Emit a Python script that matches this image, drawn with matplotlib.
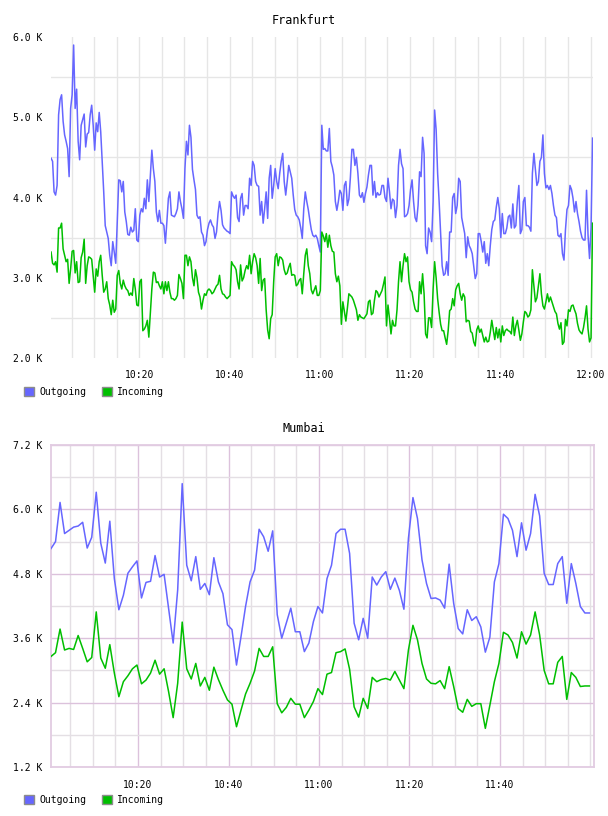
import matplotlib
matplotlib.use("Agg")
import matplotlib.pyplot as plt
import matplotlib.dates as mdates
from matplotlib.patches import Patch
from matplotlib.ticker import FixedLocator, FuncFormatter
import pandas as pd

# Frankfurt: one sample every 20 s, values in K
frankfurt_start = "2024-01-01 10:00:27"
frankfurt_out = [
    4.49, 4.45, 4.07, 4.03, 4.15, 5.03, 5.22, 5.28, 4.95, 4.78,
    4.70, 4.61, 4.26, 5.11, 5.28, 5.90, 5.11, 5.35, 4.70, 4.47,
    4.90, 4.97, 5.04, 4.63, 4.79, 4.81, 5.03, 5.15, 4.90, 4.59,
    4.93, 4.82, 5.06, 4.82, 4.45, 4.07, 3.65, 3.57, 3.49, 3.28,
    3.15, 3.45, 3.32, 3.18, 3.70, 4.22, 4.21, 4.07, 4.20, 3.82,
    3.70, 3.54, 3.53, 3.63, 3.57, 3.59, 3.86, 3.47, 3.45, 3.78,
    3.86, 3.82, 3.99, 3.86, 4.22, 3.95, 4.28, 4.59, 4.36, 4.20,
    3.82, 3.70, 3.84, 3.68, 3.68, 3.65, 3.43, 3.70, 3.99, 4.07,
    3.78, 3.77, 3.76, 3.80, 3.86, 4.07, 3.95, 3.86, 3.74, 4.36,
    4.70, 4.53,
    4.90, 4.75, 4.35, 4.22, 4.10, 3.78, 3.74, 3.76, 3.57, 3.53,
    3.40, 3.45, 3.60, 3.68, 3.72, 3.66, 3.63, 3.49, 3.57, 3.80,
    3.95, 3.84, 3.66, 3.62, 3.60, 3.58, 3.57, 3.55, 4.07, 4.02,
    3.99, 4.03, 3.75, 3.70, 3.99, 4.05, 3.78, 3.90, 3.90, 3.86,
    4.24, 4.15, 4.45, 4.40, 4.20, 4.15, 4.14, 3.78, 3.95, 3.68,
    3.86, 4.07, 3.74, 4.24, 4.40, 3.99, 4.15, 4.36, 4.20, 4.11,
    4.30, 4.45, 4.55, 4.20, 4.03, 4.20, 4.40, 4.32, 4.24, 4.03,
    3.85, 3.78, 3.76, 3.72, 3.62, 3.49, 3.86, 4.07, 3.95, 3.85,
    3.72, 3.60, 3.53, 3.51, 3.53, 3.49, 3.40, 3.32, 4.90, 4.60,
    4.61, 4.58,
    4.58, 4.86, 4.45, 4.38, 4.28, 3.95, 3.84, 3.95, 4.09, 4.05,
    3.84, 4.15, 4.20, 3.90, 3.98, 4.25, 4.60, 4.60, 4.40, 4.50,
    4.30, 4.03, 4.00, 4.06, 3.94, 4.05, 4.13, 4.28, 4.40, 4.40,
    4.03, 4.20, 4.00, 4.06, 4.03, 4.04, 4.15, 4.15, 4.00, 3.95,
    4.24, 4.07, 3.86, 3.98, 3.96, 3.75, 3.90, 4.40, 4.60, 4.42,
    4.36, 3.76, 3.77, 3.80, 3.90, 4.10, 4.22, 3.95, 3.75, 3.70,
    3.90, 4.32, 4.26, 4.75, 4.55, 3.40, 3.30, 3.62, 3.57, 3.45,
    3.95, 5.09, 4.85, 4.30, 3.95, 3.55, 3.15, 3.03, 3.05, 3.20,
    3.03, 3.57, 3.57, 4.00, 4.05, 3.80, 3.90, 4.24, 4.20, 3.75,
    3.65, 3.55,
    3.25, 3.51, 3.40, 3.36, 3.30, 3.15, 2.99, 3.05, 3.55, 3.55,
    3.45, 3.32, 3.45, 3.18, 3.30, 3.15, 3.40, 3.60, 3.70, 3.72,
    3.88, 4.00, 3.86, 3.50, 3.80, 3.55, 3.55, 3.62, 3.76, 3.78,
    3.62, 3.92, 3.62, 3.65, 3.95, 4.15, 3.55, 3.60, 3.95, 4.00,
    3.65, 3.65, 3.63, 3.58, 4.30, 4.55, 4.35, 4.15, 4.20, 4.45,
    4.50, 4.78, 4.30, 4.12, 4.15, 4.10, 4.15, 4.05, 3.90, 3.78,
    3.75, 3.53, 3.51, 3.55, 3.30, 3.22, 3.60, 3.85, 3.90, 4.15,
    4.10, 3.99, 3.82, 3.95, 3.80, 3.70, 3.58, 3.50, 3.47, 3.47,
    4.09, 3.53, 3.24, 3.62, 4.74,
]
frankfurt_in = [
    3.32, 3.18, 3.16, 3.20, 3.07, 3.62, 3.62, 3.68, 3.36, 3.28,
    3.20, 3.23, 2.93, 3.11, 3.33, 3.34, 3.06, 3.20, 2.94, 2.95,
    3.25, 3.32, 3.48, 2.93, 3.15, 3.26, 3.25, 3.23, 3.03, 2.82,
    3.11, 3.02, 3.20, 3.28, 3.03, 2.82, 2.86, 2.95, 2.74, 2.66,
    2.54, 2.72, 2.57, 2.61, 3.03, 3.09, 2.93, 2.86, 2.97, 2.90,
    2.86, 2.84, 2.78, 2.81, 2.78, 2.99, 2.86, 2.66, 2.65, 2.95,
    2.98, 2.34, 2.36, 2.40, 2.47, 2.26, 2.57, 2.86, 3.07, 3.06,
    2.94, 2.95, 2.90, 2.86, 2.95, 2.80, 2.95, 2.84, 2.95, 2.82,
    2.74, 2.74, 2.72, 2.74, 2.78, 3.04, 2.99, 2.93, 2.74, 3.28,
    3.28, 3.15,
    3.26, 3.20, 3.00, 2.90, 3.10, 3.00, 2.82, 2.76, 2.61, 2.72,
    2.80, 2.78, 2.84, 2.86, 2.84, 2.80, 2.82, 2.86, 2.90, 2.92,
    3.03, 2.86, 2.80, 2.79, 2.76, 2.74, 2.76, 2.78, 3.20, 3.16,
    3.14, 3.10, 2.95, 2.86, 3.16, 2.96, 3.00, 3.09, 3.15, 3.11,
    3.28, 3.05, 3.20, 3.30, 3.25, 3.15, 2.93, 3.24, 2.84, 2.97,
    2.99, 2.60, 2.35, 2.24, 2.49, 2.54, 2.95, 3.26, 3.30, 3.15,
    3.26, 3.25, 3.22, 3.10, 3.04, 3.06, 3.13, 3.18, 3.03, 3.04,
    3.03, 2.90, 2.92, 2.97, 2.99, 2.80, 3.05, 3.28, 3.36, 3.15,
    3.05, 2.85, 2.80, 2.85, 2.90, 2.78, 2.78, 2.84, 3.57, 3.52,
    3.45, 3.55,
    3.38, 3.53, 3.40, 3.33, 3.32, 3.05, 2.95, 3.02, 2.90, 2.42,
    2.70, 2.58, 2.46, 2.62, 2.80, 2.78, 2.76, 2.72, 2.66, 2.60,
    2.47, 2.54, 2.51, 2.50, 2.49, 2.52, 2.55, 2.70, 2.72, 2.54,
    2.56, 2.72, 2.84, 2.82, 2.76, 2.80, 2.84, 2.92, 3.01, 2.40,
    2.66, 2.49, 2.30, 2.47, 2.40, 2.40, 2.60, 2.95, 3.20, 2.95,
    3.15, 3.30, 3.20, 3.26, 2.95, 2.85, 2.82, 2.70, 2.61, 2.58,
    2.58, 2.95, 2.80, 3.05, 2.80, 2.30, 2.25, 2.50, 2.50, 2.38,
    2.86, 3.20, 3.00, 2.74, 2.57, 2.42, 2.34, 2.34, 2.25, 2.17,
    2.34, 2.59, 2.61, 2.74, 2.65, 2.85, 2.90, 2.93, 2.80, 2.72,
    2.80, 2.76,
    2.45, 2.47, 2.46, 2.33, 2.31, 2.20, 2.15, 2.35, 2.40, 2.32,
    2.36, 2.28, 2.20, 2.26, 2.20, 2.21, 2.32, 2.47, 2.35, 2.23,
    2.38, 2.25, 2.36, 2.20, 2.40, 2.28, 2.34, 2.36, 2.34, 2.33,
    2.30, 2.51, 2.28, 2.40, 2.47, 2.35, 2.22, 2.30, 2.45, 2.58,
    2.56, 2.51, 2.53, 2.60, 3.10, 2.90, 2.70, 2.75, 2.90, 3.05,
    2.80, 2.65, 2.61, 2.70, 2.80, 2.70, 2.76, 2.70, 2.64, 2.58,
    2.55, 2.43, 2.36, 2.44, 2.17, 2.20, 2.48, 2.40, 2.60, 2.58,
    2.65, 2.66, 2.60, 2.55, 2.43, 2.35, 2.32, 2.30, 2.38, 2.50,
    2.65, 2.36, 2.20, 2.25, 3.68,
]

# Mumbai: one sample per minute, values in K
mumbai_start = "2024-01-01 10:00:46"
mumbai_out = [
    5.27, 5.40, 6.13, 5.55, 5.61, 5.67, 5.69, 5.76, 5.28, 5.48,
    6.32, 5.37, 5.00, 5.78, 4.71, 4.13, 4.40, 4.81, 4.93, 5.04,
    4.35, 4.64, 4.66, 5.14, 4.74, 4.79, 4.15, 3.51, 4.50, 6.48,
    4.96, 4.67, 5.12, 4.51, 4.62, 4.41, 5.10, 4.65, 4.43, 3.85,
    3.76, 3.10, 3.63, 4.19, 4.65, 4.87, 5.63, 5.49, 5.22, 5.60,
    4.04, 3.60, 3.88, 4.16, 3.72, 3.72, 3.35, 3.51, 3.91, 4.19,
    4.07, 4.71, 4.96, 5.55, 5.63, 5.63, 5.18, 3.88, 3.57, 3.97,
    3.60, 4.74, 4.59, 4.74, 4.84, 4.51, 4.72, 4.49, 4.14, 5.46,
    6.22, 5.83, 5.06, 4.62, 4.34, 4.35, 4.31, 4.16, 4.98, 4.25,
    3.78, 3.68, 4.13, 3.93, 4.00, 3.81, 3.34, 3.62, 4.65, 4.99,
    5.91, 5.83, 5.61, 5.12, 5.75, 5.24, 5.55, 6.28, 5.88, 4.81,
    4.60, 4.60, 4.99, 5.12, 4.25, 4.99, 4.62, 4.19, 4.07, 4.07,
]
mumbai_in = [
    3.26, 3.33, 3.77, 3.38, 3.41, 3.39, 3.65, 3.41, 3.16, 3.24,
    4.09, 3.23, 3.04, 3.48, 2.95, 2.51, 2.79, 2.90, 3.03, 3.10,
    2.75, 2.82, 2.95, 3.19, 2.93, 3.03, 2.60, 2.12, 2.76, 3.90,
    3.03, 2.84, 3.13, 2.71, 2.87, 2.63, 3.06, 2.83, 2.63, 2.45,
    2.37, 1.95, 2.26, 2.56, 2.76, 2.99, 3.41, 3.26, 3.26, 3.44,
    2.38, 2.21, 2.31, 2.48, 2.37, 2.37, 2.12, 2.26, 2.42, 2.66,
    2.55, 2.93, 2.96, 3.33, 3.35, 3.40, 3.02, 2.32, 2.13, 2.48,
    2.29, 2.87, 2.79, 2.83, 2.85, 2.82, 2.98, 2.82, 2.66, 3.38,
    3.84, 3.57, 3.13, 2.84, 2.76, 2.75, 2.81, 2.66, 3.07, 2.70,
    2.29, 2.22, 2.46, 2.33, 2.38, 2.38, 1.92, 2.35, 2.79, 3.13,
    3.71, 3.66, 3.52, 3.23, 3.72, 3.49, 3.66, 4.09, 3.66, 3.00,
    2.75, 2.75, 3.15, 3.26, 2.46, 2.96, 2.87, 2.70, 2.71, 2.71,
]

series_labels = ["Outgoing", "Incoming"]
frankfurt_yticks = [2.0, 3.0, 4.0, 5.0, 6.0]
frankfurt_ygrid = [2.5, 3.5, 4.5, 5.5]
mumbai_yticks = [1.2, 2.4, 3.6, 4.8, 6.0, 7.2]
mumbai_ygrid = [1.8, 3.0, 4.2, 5.4, 6.6]

OUT_COLOR = "#6666ff"
IN_COLOR = "#00bf00"
FONT = "DejaVu Sans Mono"

plt.rcParams["font.family"] = FONT
plt.rcParams["font.size"] = 7


def k_label(v, pos):
    return f"{v:.1f} K"


def draw_panel(fig, rect, title, title_y, start, step, out_vals, in_vals,
               xlim, yticks, ygrid, xlabels, framed, legend_y):
    ax = fig.add_axes(rect)
    t_out = pd.date_range(start, periods=len(out_vals), freq=step)
    t_in = pd.date_range(start, periods=len(in_vals), freq=step)
    ax.plot(t_out, out_vals, color=OUT_COLOR, lw=1.1, zorder=3)
    ax.plot(t_in, in_vals, color=IN_COLOR, lw=1.1, zorder=3)

    ax.set_xlim(pd.Timestamp(xlim[0]), pd.Timestamp(xlim[1]))
    ax.set_ylim(yticks[0], yticks[-1])

    day = "2024-01-01 "
    ax.xaxis.set_major_locator(FixedLocator(
        [mdates.date2num(pd.Timestamp(day + s)) for s in xlabels]))
    ax.xaxis.set_minor_locator(mdates.MinuteLocator(byminute=range(0, 60, 5)))
    ax.xaxis.set_major_formatter(mdates.DateFormatter("%H:%M"))
    ax.yaxis.set_major_locator(FixedLocator(yticks))
    ax.yaxis.set_minor_locator(FixedLocator(ygrid))
    ax.yaxis.set_major_formatter(FuncFormatter(k_label))
    ax.tick_params(which="both", length=0)
    ax.tick_params(axis="y", pad=6, labelsize=7)
    ax.tick_params(axis="x", pad=9, labelsize=7)
    ax.set_axisbelow(True)

    if framed:
        ax.grid(which="minor", color="#e4dfe4", lw=1.0)
        ax.grid(which="major", color="#dcc2dc", lw=1.0)
        for s in ax.spines.values():
            s.set_color("#e2cce2")
            s.set_linewidth(1.3)
    else:
        # plain light grid: every 5 minutes and on the half-K lines
        ax.grid(which="minor", color="#e6e6e6", lw=1.0)
        ax.grid(which="major", axis="x", color="#e6e6e6", lw=1.0)
        for s in ax.spines.values():
            s.set_visible(False)

    fig.text(0.5, title_y, title, ha="center", va="center", fontsize=8.5)

    handles = [Patch(facecolor=OUT_COLOR, edgecolor="#8c8c8c", lw=1.0),
               Patch(facecolor=IN_COLOR, edgecolor="#8c8c8c", lw=1.0)]
    fig.legend(handles, series_labels, loc="center left",
               bbox_to_anchor=(24 / 608, legend_y), ncol=2, frameon=False,
               borderpad=0, borderaxespad=0, handlelength=1.05,
               handleheight=1.05, handletextpad=0.5, columnspacing=1.6,
               fontsize=7)
    return ax


fig = plt.figure(figsize=(6.08, 8.16), dpi=100)

draw_panel(fig, [51 / 608, 1 - 358 / 816, 542 / 608, 321 / 816], "Frankfurt",
           1 - 20 / 816, frankfurt_start, "20s", frankfurt_out, frankfurt_in,
           ("2024-01-01 10:00:26", "2024-01-01 12:00:33"),
           frankfurt_yticks, frankfurt_ygrid,
           ["10:20", "10:40", "11:00", "11:20", "11:40", "12:00"],
           False, 1 - 392 / 816)

draw_panel(fig, [51 / 608, 1 - 767 / 816, 543 / 608, 322 / 816], "Mumbai",
           1 - 429 / 816, mumbai_start, "60s", mumbai_out, mumbai_in,
           ("2024-01-01 10:00:46", "2024-01-01 12:00:47"),
           mumbai_yticks, mumbai_ygrid,
           ["10:20", "10:40", "11:00", "11:20", "11:40"],
           True, 1 - 800 / 816)

fig.savefig("out.png", dpi=100)
